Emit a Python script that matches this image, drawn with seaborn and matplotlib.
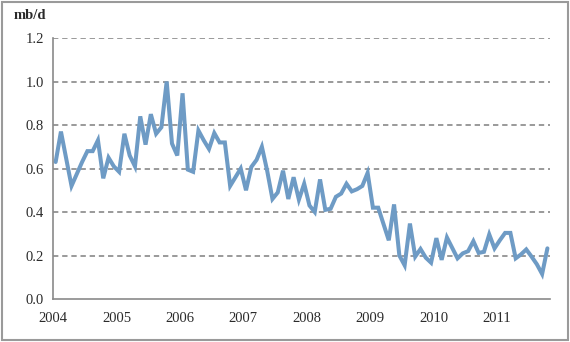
import numpy as np
import pandas as pd
import matplotlib
matplotlib.use("Agg")
import matplotlib.pyplot as plt
from matplotlib.patches import Rectangle
import seaborn as sns

# Monthly values, Jan 2004 onward (mb/d)
values = [
    0.63, 0.77, 0.645, 0.52, 0.575, 0.63, 0.68, 0.68, 0.73, 0.555, 0.65, 0.61,   # 2004
    0.585, 0.76, 0.66, 0.61, 0.84, 0.71, 0.85, 0.76, 0.79, 1.00, 0.715, 0.66,    # 2005
    0.946, 0.595, 0.585, 0.775, 0.73, 0.69, 0.763, 0.72, 0.72, 0.52, 0.56, 0.60, # 2006
    0.50, 0.607, 0.64, 0.70, 0.59, 0.46, 0.49, 0.59, 0.46, 0.56, 0.457, 0.53,    # 2007
    0.43, 0.40, 0.55, 0.41, 0.415, 0.47, 0.485, 0.53, 0.495, 0.505, 0.52, 0.58,  # 2008
    0.42, 0.42, 0.345, 0.27, 0.435, 0.20, 0.155, 0.347, 0.195, 0.23, 0.19, 0.167,# 2009
    0.28, 0.18, 0.283, 0.235, 0.187, 0.21, 0.22, 0.266, 0.212, 0.217, 0.297, 0.233, # 2010
    0.27, 0.304, 0.304, 0.187, 0.205, 0.228, 0.195, 0.16, 0.115, 0.233,          # 2011
]
years = [2004, 2005, 2006, 2007, 2008, 2009, 2010, 2011]
y_ticks = [0.0, 0.2, 0.4, 0.6, 0.8, 1.0, 1.2]
y_label = "mb/d"

df = pd.DataFrame({"month": np.arange(len(values)) + 0.5, "value": values})

sns.set_theme(style="white")
plt.rcParams["font.family"] = ["Liberation Serif", "DejaVu Serif"]

fig = plt.figure(figsize=(5.7, 3.42), dpi=100)
ax = fig.add_axes([0.093, 0.1257, 0.872, 0.763])

sns.lineplot(data=df, x="month", y="value", ax=ax, color="#6e9bc5",
             linewidth=2.9, solid_joinstyle="miter")

ax.set_xlim(0, 94)
ax.set_ylim(0, 1.2)
ax.set_xticks([12 * k for k in range(len(years))])
ax.set_xticklabels([str(y) for y in years])
ax.set_yticks(y_ticks)
ax.set_yticklabels([f"{v:.1f}" for v in y_ticks])
ax.set_xlabel("")
ax.set_ylabel("")

for v in y_ticks[1:]:
    ax.axhline(v, color="#7f7f7f", linestyle=(0, (3.5, 2.5)), linewidth=1.1, zorder=0)

for s in ["top", "right"]:
    ax.spines[s].set_visible(False)
for s in ["left", "bottom"]:
    ax.spines[s].set_color("#8a8a8a")
    ax.spines[s].set_linewidth(1.2)

ax.tick_params(axis="both", which="major", direction="out", length=4.5, width=1.2,
               color="#8a8a8a", labelsize=10.5, labelcolor="#2b2b2b")
ax.tick_params(axis="x", pad=5)
ax.tick_params(axis="y", pad=2)

fig.text(0.053, 0.955, y_label, fontsize=10.5, fontweight="bold", color="#2b2b2b",
         ha="center", va="center")

fig.patches.append(Rectangle((0.004, 0.006), 0.992, 0.988, transform=fig.transFigure,
                             fill=False, edgecolor="#9a9a9a", linewidth=1.5))

fig.savefig("out.png", dpi=100)
